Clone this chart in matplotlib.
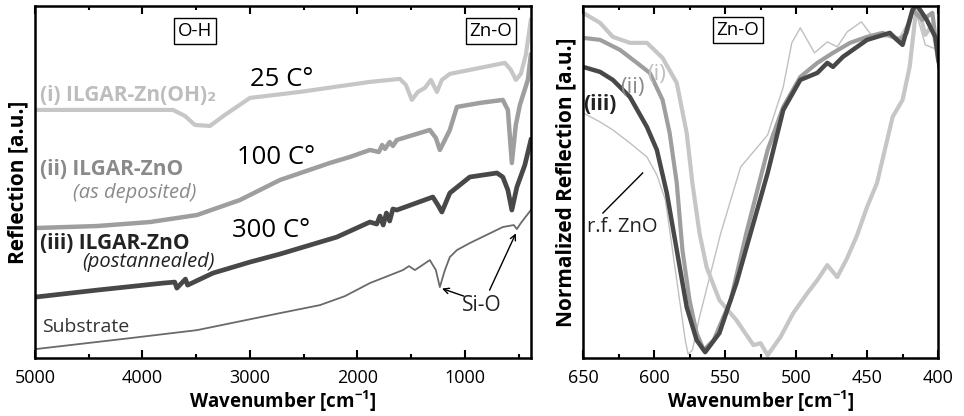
import matplotlib
matplotlib.use("Agg")
import matplotlib.pyplot as plt
from matplotlib.ticker import MultipleLocator

plt.rcParams['font.family'] = ['Open Sans', 'DejaVu Sans']

# ---------------- FTIR survey spectra (left) ----------------
wn_i = [5000, 3716, 3605, 3512, 3372, 3233, 3000, 2535, 1884, 1605, 1549, 1493,
        1437, 1372, 1316, 1260, 1214, 1140, 860, 628, 572, 526, 479, 433, 386]
r_i = [248, 248, 242, 233, 232, 243, 260, 266, 276, 279, 273, 258,
       266, 270, 278, 266, 278, 284, 290, 295, 288, 278, 284, 303, 338]

wn_ii = [5000, 4423, 3930, 3493, 3093, 2721, 2256, 2070, 1884, 1800, 1770, 1744,
         1700, 1670, 1633, 1326, 1270, 1233, 1186, 1140, 1074, 860, 647, 600,
         563, 526, 488, 414, 386]
r_ii = [130, 132, 136, 143, 158, 178, 195, 201, 208, 206, 213, 209,
        216, 212, 218, 228, 220, 208, 218, 228, 251, 255, 258, 248,
        195, 233, 253, 278, 303]

wn_iii = [5000, 4423, 3809, 3700, 3680, 3600, 3580, 3344, 3000, 2721, 2191,
          1884, 1820, 1790, 1760, 1730, 1700, 1670, 1633, 1298, 1251, 1214,
          1140, 954, 702, 647, 600, 563, 516, 442, 386]
r_iii = [61, 68, 75, 76, 70, 79, 73, 85, 96, 104, 121,
         136, 134, 142, 133, 145, 137, 149, 148, 161, 153, 146,
         165, 181, 185, 181, 168, 148, 171, 193, 218]

wn_sub = [5000, 4116, 3493, 2721, 2349, 2116, 1884, 1577, 1520, 1465, 1326,
          1270, 1233, 1186, 1140, 1074, 954, 647, 545, 516, 479, 386]
r_sub = [9, 20, 28, 45, 53, 62, 75, 88, 92, 88, 98,
         88, 71, 88, 101, 108, 115, 131, 133, 129, 135, 148]

# ---------------- Zn-O band, normalized (right) ----------------
wn_rf = [650, 638, 629, 617, 605, 598, 592, 587, 582, 578, 576, 573, 568, 553,
         539, 520, 509, 503, 497, 487, 478, 471, 464, 454, 446, 427, 416, 409, 400]
r_rf = [245, 236, 228, 215, 201, 183, 158, 108, 58, 18, 4, 8, 41, 125,
        191, 223, 271, 315, 330, 305, 316, 311, 326, 336, 321, 321, 348, 313, 308]

wn_ri = [650, 638, 629, 617, 605, 594, 584, 577, 573, 568, 563, 554, 542, 530,
         525, 520, 511, 502, 492, 485, 478, 471, 464, 457, 450, 443, 432, 425,
         420, 416, 414, 409, 404, 400]
r_ri = [345, 335, 321, 315, 315, 300, 275, 225, 175, 125, 91, 58, 38, 13,
        15, 3, 21, 45, 65, 78, 93, 81, 100, 123, 151, 175, 241, 258,
        291, 341, 350, 323, 333, 298]

wn_rii = [650, 638, 624, 612, 603, 594, 589, 584, 580, 575, 570, 565, 558, 546,
          535, 520, 509, 497, 485, 474, 462, 450, 439, 427, 422, 418, 411, 404, 400]
r_rii = [320, 318, 308, 295, 285, 258, 225, 175, 108, 58, 25, 8, 18, 58,
         125, 208, 251, 281, 295, 305, 315, 321, 325, 318, 325, 348, 338, 345, 298]

wn_riii = [650, 638, 629, 617, 605, 598, 591, 584, 577, 570, 564, 554, 542, 532,
           520, 509, 497, 485, 478, 474, 467, 457, 450, 443, 434, 429, 425, 418,
           415, 408, 402, 399]
r_riii = [291, 286, 278, 261, 231, 208, 165, 108, 51, 18, 6, 25, 75, 125,
          185, 248, 278, 285, 295, 291, 301, 311, 318, 321, 325, 318, 313, 348,
          353, 338, 321, 291]

c_i, c_ii, c_iii, c_sub, c_rf = '#c6c6c6', '#9e9e9e', '#484848', '#6a6a6a', '#c0c0c0'

fig = plt.figure(figsize=(9.64, 4.16), dpi=100)
axL = fig.add_axes([0.0363, 0.139, 0.5145, 0.847])
axR = fig.add_axes([0.6048, 0.139, 0.3683, 0.847])

def style(ax, major, minor):
    ax.xaxis.set_major_locator(MultipleLocator(major))
    ax.xaxis.set_minor_locator(MultipleLocator(minor))
    ax.set_yticks([])
    ax.tick_params(axis='x', which='both', direction='in', top=True, bottom=True,
                   labelsize=13, width=1.5, pad=8)
    ax.tick_params(axis='x', which='major', length=6)
    ax.tick_params(axis='x', which='minor', length=3)
    for s in ax.spines.values():
        s.set_linewidth(1.8)
    ax.set_ylim(0, 352)

# left panel
axL.plot(wn_i, r_i, color=c_i, lw=3.0, solid_joinstyle='round')
axL.plot(wn_ii, r_ii, color=c_ii, lw=3.2, solid_joinstyle='round')
axL.plot(wn_iii, r_iii, color=c_iii, lw=3.4, solid_joinstyle='round')
axL.plot(wn_sub, r_sub, color=c_sub, lw=1.3)
axL.set_xlim(5000, 385)
style(axL, 1000, 500)
xlab = 'Wavenumber [cm$^{\\mathregular{-1}}$]'
axL.set_xlabel(xlab, fontsize=13.5, fontweight='bold', labelpad=1)
axL.set_ylabel('Reflection [a.u.]', fontsize=15, fontweight='bold', labelpad=5)

box = dict(boxstyle='square,pad=0.2', fc='white', ec='black', lw=1.0)
axL.text(3512, 327, 'O-H', fontsize=13.5, ha='center', va='center', bbox=box)
axL.text(758, 327, 'Zn-O', fontsize=13.5, ha='center', va='center', bbox=box)

axL.text(4953, 262, '(i) ILGAR-Zn(OH)₂', fontsize=15, fontweight='bold', color='#bdbdbd',
         ha='left', va='center')
axL.text(3000, 278, '25 C°', fontsize=18.5, color='black', ha='left', va='center')
axL.text(4953, 188, '(ii) ILGAR-ZnO', fontsize=15, fontweight='bold', color='#8a8a8a',
         ha='left', va='center')
axL.text(4647, 165, '(as deposited)', fontsize=14.5, style='italic', color='#8a8a8a',
         ha='left', va='center')
axL.text(3121, 200, '100 C°', fontsize=18.5, color='black', ha='left', va='center')
axL.text(4953, 115, '(iii) ILGAR-ZnO', fontsize=15, fontweight='bold', color='#222222',
         ha='left', va='center')
axL.text(4563, 96, '(postannealed)', fontsize=14.5, style='italic', color='#222222',
         ha='left', va='center')
axL.text(3167, 128, '300 C°', fontsize=18.5, color='black', ha='left', va='center')
axL.text(4935, 31, 'Substrate', fontsize=14, color='#333333', ha='left', va='center')

axL.text(842, 53, 'Si-O', fontsize=15, color='#222222', ha='center', va='center')
arrow = dict(arrowstyle='->', color='black', lw=1.0, shrinkA=0, shrinkB=1)
axL.annotate('', xy=(1225, 70), xytext=(1010, 62), arrowprops=arrow)
axL.annotate('', xy=(520, 126), xytext=(770, 68), arrowprops=arrow)

# right panel
axR.plot(wn_rf, r_rf, color=c_rf, lw=1.0)
axR.plot(wn_ri, r_ri, color=c_i, lw=3.0, solid_joinstyle='round')
axR.plot(wn_rii, r_rii, color=c_ii, lw=3.0, solid_joinstyle='round')
axR.plot(wn_riii, r_riii, color=c_iii, lw=3.2, solid_joinstyle='round')
axR.set_xlim(650, 400)
style(axR, 50, 25)
axR.set_xlabel(xlab, fontsize=13.5, fontweight='bold', labelpad=1)
axR.set_ylabel('Normalized Reflection [a.u.]', fontsize=15, fontweight='bold', labelpad=5)

axR.text(541, 328, 'Zn-O', fontsize=13.5, ha='center', va='center', bbox=box)
axR.text(598, 283, '(i)', fontsize=16, color='#c0c0c0', ha='center', va='center')
axR.text(615.5, 270, '(ii)', fontsize=16, color='#8a8a8a', ha='center', va='center')
axR.text(638, 253, '(iii)', fontsize=15, fontweight='bold', color='#222222',
         ha='center', va='center')
axR.text(647, 131, 'r.f. ZnO', fontsize=14.5, color='#222222', ha='left', va='center')
axR.plot([636, 608], [145, 185], color='black', lw=1.0)

fig.savefig('out.png', dpi=100)
